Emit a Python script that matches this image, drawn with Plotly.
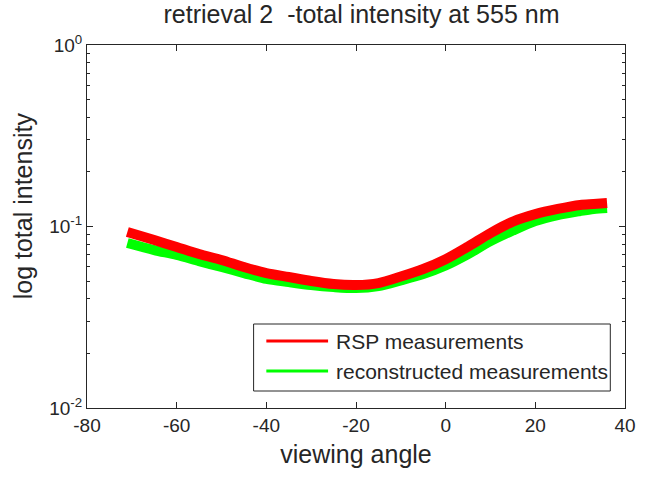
import plotly.graph_objects as go

# Viewing angles (degrees) and total intensity at 555 nm
viewing_angle = [-71, -65, -60, -55, -50, -45, -40, -35, -30, -25, -20, -15,
                 -10, -5, 0, 5, 10, 15, 20, 25, 30, 33, 36]
rsp_measured = [0.0933, 0.0842, 0.0771, 0.0705, 0.0654, 0.0598, 0.0554, 0.0527,
                0.0501, 0.0482, 0.0476, 0.0488, 0.0530, 0.0583, 0.0660, 0.0775,
                0.0920, 0.1065, 0.1170, 0.1249, 0.1314, 0.1330, 0.1348]
reconstructed = [0.0811, 0.0742, 0.0697, 0.0645, 0.0598, 0.0554, 0.0514, 0.0494,
                 0.0476, 0.0464, 0.0458, 0.0470, 0.0505, 0.0547, 0.0610, 0.0705,
                 0.0830, 0.0950, 0.1072, 0.1157, 0.1217, 0.1249, 0.1264]

x_ticks = [-80, -60, -40, -20, 0, 20, 40]
x_tick_labels = [str(v) for v in x_ticks]
y_tick_alias = {"0.01": "10<sup>-2</sup>", "0.1": "10<sup>-1</sup>", "1": "10<sup>0</sup>"}

series_names = ["RSP measurements", "reconstructed measurements"]
series_colors = ["#ff0000", "#00ff00"]

FONT = "Liberation Sans, Arial, sans-serif"
INK = "#262626"

fig = go.Figure()
# green first so the red band sits on top
fig.add_trace(go.Scatter(x=viewing_angle, y=reconstructed, mode="lines",
                         name=series_names[1],
                         line=dict(color=series_colors[1], width=10,
                                   shape="spline", smoothing=0.8)))
fig.add_trace(go.Scatter(x=viewing_angle, y=rsp_measured, mode="lines",
                         name=series_names[0],
                         line=dict(color=series_colors[0], width=10,
                                   shape="spline", smoothing=0.8)))

L, R, T, B = 87, 12, 45, 69
W, H = 648, 477
pw, ph = W - L - R, H - T - B

fig.update_layout(
    width=W, height=H,
    margin=dict(l=L, r=R, t=T, b=B),
    paper_bgcolor="white", plot_bgcolor="white",
    showlegend=False,
    font=dict(family=FONT, color=INK),
    title=dict(text="retrieval 2  -total intensity at 555 nm",
               x=(L + pw / 2) / W, xanchor="center",
               y=1 - 14 / H, yanchor="middle", yref="container",
               font=dict(size=25, color=INK)),
)

fig.update_xaxes(
    range=[-80, 40], tickvals=x_ticks, ticktext=x_tick_labels,
    ticks="inside", ticklen=6,
    tickcolor=INK, showline=True, linecolor=INK, linewidth=1, mirror="ticks",
    showgrid=False, zeroline=False, tickfont=dict(size=19, color=INK),
    title=dict(text="viewing angle", font=dict(size=25, color=INK), standoff=10),
)
fig.update_yaxes(
    type="log", range=[-2, 0], dtick=1, tick0=0, labelalias=y_tick_alias,
    ticks="inside", ticklen=6, tickcolor=INK,
    minor=dict(ticks="inside", ticklen=3, tickcolor=INK, dtick="D1", showgrid=False),
    showline=True, linecolor=INK, linewidth=1, mirror="ticks",
    showgrid=False, zeroline=False, tickfont=dict(size=19, color=INK),
)


def px_x(p):
    return (p - L) / pw


def px_y(p):
    return (H - B - p) / ph


# y-axis label
fig.add_annotation(text="log total intensity", xref="paper", yref="paper",
                   x=px_x(22), y=px_y(206), xanchor="center", yanchor="middle",
                   textangle=-90, showarrow=False, font=dict(size=25, color=INK))

# legend box
fig.add_shape(type="rect", xref="paper", yref="paper",
              x0=px_x(257), x1=px_x(621), y0=px_y(391), y1=px_y(324),
              line=dict(color=INK, width=1), fillcolor="white", layer="above")
legend_rows = [341, 371]
for name, color, yy in zip(series_names, series_colors, legend_rows):
    fig.add_shape(type="line", xref="paper", yref="paper",
                  x0=px_x(270), x1=px_x(333), y0=px_y(yy), y1=px_y(yy),
                  line=dict(color=color, width=3), layer="above")
    fig.add_annotation(text=name, xref="paper", yref="paper",
                       x=px_x(339), y=px_y(yy), xanchor="left", yanchor="middle",
                       showarrow=False, font=dict(size=21, color=INK))

fig.write_html("out.html")
